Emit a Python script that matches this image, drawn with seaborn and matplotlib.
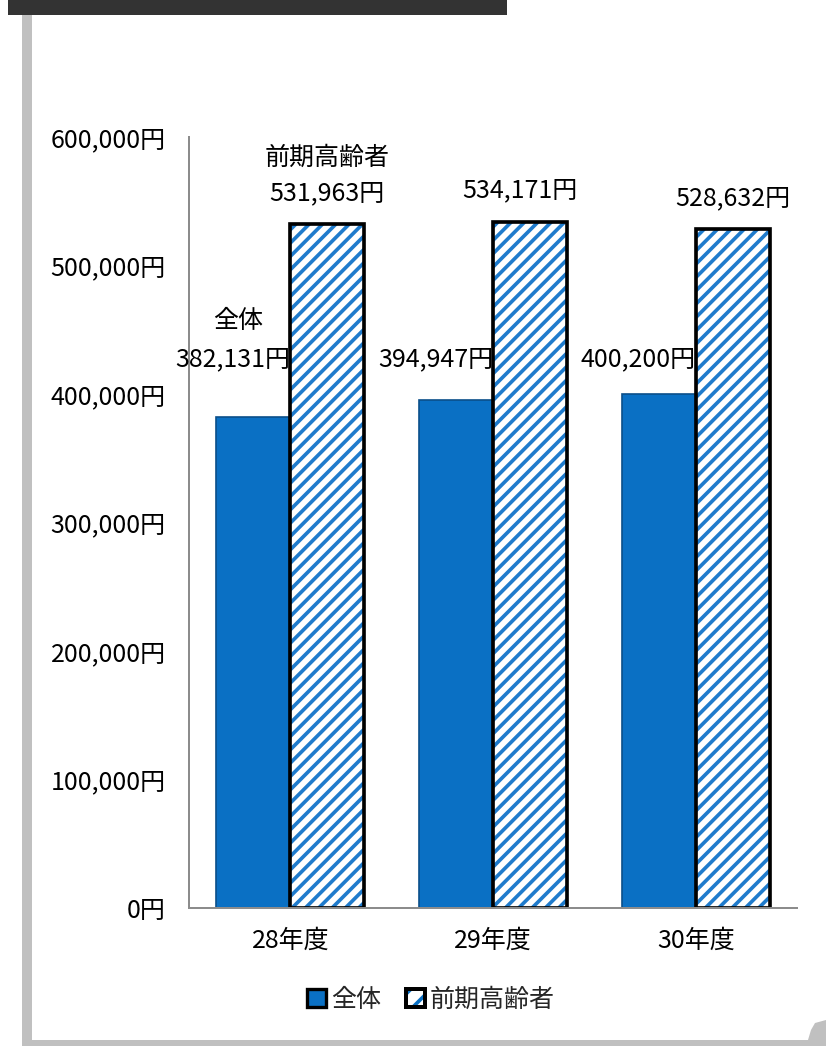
import numpy as np
import pandas as pd
import seaborn as sns
import matplotlib.pyplot as plt
from matplotlib.patches import Rectangle, Polygon, Patch
from matplotlib.legend_handler import HandlerTuple

sns.set_theme(style='white')
plt.rcParams['font.family'] = ['Noto Sans CJK JP', 'DejaVu Sans']
plt.rcParams['hatch.linewidth'] = 2.2

# data
years = ['28年度', '29年度', '30年度']
group_names = ['全体', '前期高齢者']
zentai = [382131, 394947, 400200]
zenki = [531963, 534171, 528632]
yticks = [0, 100000, 200000, 300000, 400000, 500000, 600000]

blue = '#0a70c4'
hatchBlue = '#1f7bcc'
fs = 15

df = pd.DataFrame({
    '年度': years * 2,
    '金額': zentai + zenki,
    '区分': [group_names[0]] * len(years) + [group_names[1]] * len(years),
})

dpi = 120
fig = plt.figure(figsize=(826 / dpi, 1046 / dpi), dpi=dpi)
ax = fig.add_axes([189 / 826, 138 / 1046, 608 / 826, 771 / 1046])

sns.barplot(data=df, x='年度', y='金額', hue='区分', palette=[blue, 'white'],
            width=0.73, gap=0, saturation=1, errorbar=None, legend=False, ax=ax)

# 全体: solid blue bars
for bar in ax.containers[0]:
    bar.set_edgecolor('#0b4f8a')
    bar.set_linewidth(1)

# 前期高齢者: white bars with blue diagonal hatch and thick black frame
for bar in ax.containers[1]:
    bar.set_facecolor('white')
    bar.set_edgecolor(hatchBlue)
    bar.set_hatch('///')
    bar.set_linewidth(0)
    ax.add_patch(Rectangle((bar.get_x(), bar.get_y()), bar.get_width(), bar.get_height(),
                           fill=False, edgecolor='black', linewidth=2.2,
                           zorder=bar.get_zorder() + 0.1))

ax.set_xlim(-0.5, 2.5)
ax.set_ylim(0, 600000)
ax.set_yticks(yticks)
ax.set_yticklabels([f'{v:,}円' for v in yticks])
ax.set_xlabel('')
ax.set_ylabel('')
ax.tick_params(axis='y', length=0, labelsize=fs, pad=14, labelcolor='black')
ax.tick_params(axis='x', length=0, labelsize=fs, pad=12, labelcolor='black')
for s in ['top', 'right']:
    ax.spines[s].set_visible(False)
for s in ['left', 'bottom']:
    ax.spines[s].set_color('#8c8c8c')
    ax.spines[s].set_linewidth(1.2)

# value labels
for i, bar in enumerate(ax.containers[0]):
    ax.text(bar.get_x() + bar.get_width(), 427000, f'{zentai[i]:,}円',
            ha='right', va='center', fontsize=fs, color='black')
first = ax.containers[0][0]
ax.text(first.get_x() + first.get_width() / 2 - 0.075, 457000, group_names[0],
        ha='center', va='center', fontsize=fs, color='black')

nudge = [0, -0.05, 0]
for i, bar in enumerate(ax.containers[1]):
    ax.text(bar.get_x() + bar.get_width() / 2 + nudge[i], zenki[i] + 24000, f'{zenki[i]:,}円',
            ha='center', va='center', fontsize=fs, color='black')
first = ax.containers[1][0]
ax.text(first.get_x() + first.get_width() / 2, zenki[0] + 51500, group_names[1],
        ha='center', va='center', fontsize=fs, color='black')

# legend
handles = [
    Patch(facecolor=blue, edgecolor='black', linewidth=2),
    (Patch(facecolor='white', edgecolor=blue, hatch='//', linewidth=0),
     Patch(fill=False, edgecolor='black', linewidth=2.4)),
]
fig.legend(handles=handles, labels=group_names, handler_map={tuple: HandlerTuple(ndivide=1)},
           loc='center', bbox_to_anchor=(431 / 826, 1 - 1000 / 1046), ncol=2, frameon=False,
           fontsize=fs, handlelength=0.75, handleheight=0.75, handletextpad=0.2, columnspacing=1.0)

# page decoration around the chart
W, H = 826, 1046
gray = '#c0c0c0'
fig.patches.append(Rectangle((8 / W, 1 - 15 / H), 499 / W, 15 / H, transform=fig.transFigure,
                             facecolor='#333333', edgecolor='none'))
fig.patches.append(Rectangle((22 / W, 0), 10 / W, 1 - 15 / H, transform=fig.transFigure,
                             facecolor=gray, edgecolor='none'))
fig.patches.append(Rectangle((22 / W, 0), 788 / W, 6 / H, transform=fig.transFigure,
                             facecolor=gray, edgecolor='none'))
corner = [(805, 1046), (826, 1046), (826, 1020), (815, 1023), (811, 1030), (808, 1040)]
fig.patches.append(Polygon([(x / W, 1 - y / H) for x, y in corner], closed=True,
                           transform=fig.transFigure, facecolor=gray, edgecolor='none'))

fig.savefig('out.png', dpi=dpi)
